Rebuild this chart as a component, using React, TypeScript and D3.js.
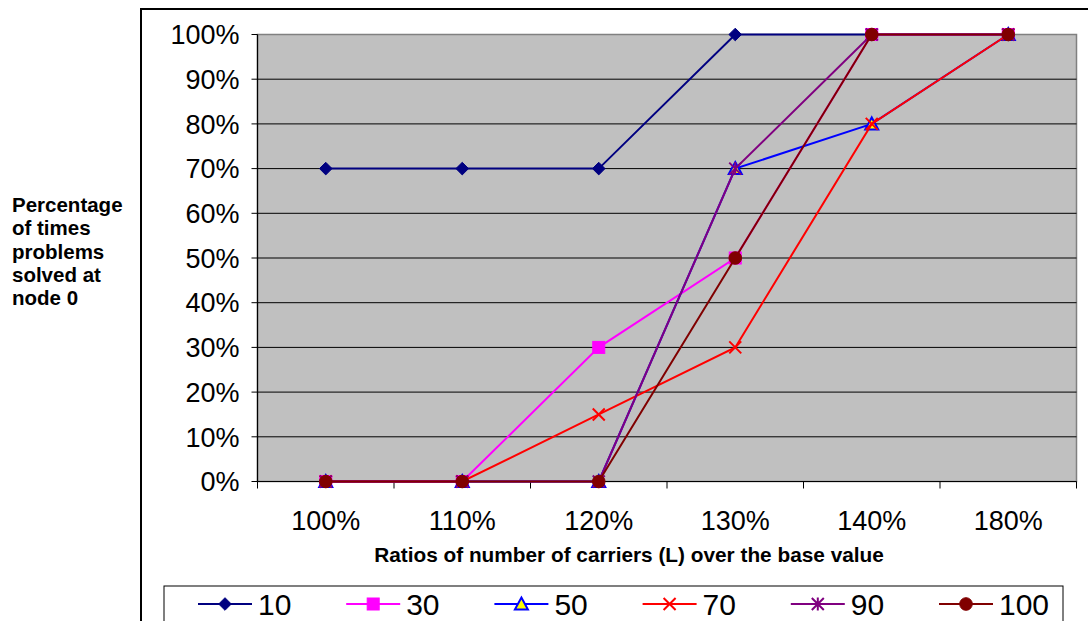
import React from "react";
import * as d3 from "d3";

const categories = ["100%", "110%", "120%", "130%", "140%", "180%"];
const seriesNames = ["10", "30", "50", "70", "90", "100"];
const values10 = [0.7, 0.7, 0.7, 1.0, 1.0, 1.0];
const values30 = [0, 0, 0.3, 0.5, 1.0, 1.0];
const values50 = [0, 0, 0, 0.7, 0.8, 1.0];
const values70 = [0, 0, 0.15, 0.3, 0.8, 1.0];
const values90 = [0, 0, 0, 0.7, 1.0, 1.0];
const values100 = [0, 0, 0, 0.5, 1.0, 1.0];
const yTicks = [0, 0.1, 0.2, 0.3, 0.4, 0.5, 0.6, 0.7, 0.8, 0.9, 1.0];

type MarkerKind = "diamond" | "square" | "triangle" | "x" | "star" | "circle";

const seriesStyle: { color: string; marker: MarkerKind; fill: string }[] = [
  { color: "#000080", marker: "diamond", fill: "#000080" },
  { color: "#FF00FF", marker: "square", fill: "#FF00FF" },
  { color: "#0000FF", marker: "triangle", fill: "#FFFF00" },
  { color: "#FF0000", marker: "x", fill: "none" },
  { color: "#800080", marker: "star", fill: "none" },
  { color: "#800000", marker: "circle", fill: "#800000" },
];

const allValues = [values10, values30, values50, values70, values90, values100];

const FONT = "'Liberation Sans', Arial, Helvetica, sans-serif";

const plot = { left: 257.5, right: 1076.5, top: 34.5, bottom: 481.5 };

function Marker({ kind, x, y, color, fill }: { kind: MarkerKind; x: number; y: number; color: string; fill: string }) {
  const r = 6.3;
  switch (kind) {
    case "diamond":
      return <path d={`M${x},${y - r}L${x + r},${y}L${x},${y + r}L${x - r},${y}Z`} fill={fill} stroke={color} strokeWidth={1} />;
    case "square":
      return <rect x={x - 6} y={y - 6} width={12} height={12} fill={fill} stroke={color} strokeWidth={1} />;
    case "triangle":
      return <path d={`M${x},${y - 6.5}L${x + 6.5},${y + 5.5}L${x - 6.5},${y + 5.5}Z`} fill={fill} stroke={color} strokeWidth={2} strokeLinejoin="miter" />;
    case "x":
      return <path d={`M${x - 6},${y - 6}L${x + 6},${y + 6}M${x + 6},${y - 6}L${x - 6},${y + 6}`} stroke={color} strokeWidth={2} fill="none" />;
    case "star":
      return (
        <path
          d={`M${x - 6},${y - 6}L${x + 6},${y + 6}M${x + 6},${y - 6}L${x - 6},${y + 6}M${x},${y - 6.5}L${x},${y + 6.5}`}
          stroke={color}
          strokeWidth={2}
          fill="none"
        />
      );
    case "circle":
      return <circle cx={x} cy={y} r={6.3} fill={fill} stroke={color} strokeWidth={1} />;
  }
}

export default function App() {
  const width = 1088;
  const height = 621;

  const x = d3.scaleBand<string>().domain(categories).range([plot.left, plot.right]).padding(0);
  const y = d3.scaleLinear().domain([0, 1]).range([plot.bottom, plot.top]);
  const cx = (c: string) => (x(c) ?? 0) + x.bandwidth() / 2;

  const line = d3
    .line<number>()
    .x((_, i) => cx(categories[i]))
    .y((v) => y(v));

  const fmt = d3.format(".0%");

  const tickBoundaries = [...categories.map((c) => x(c) ?? 0), plot.right];

  const legendItems = seriesNames.map((name, i) => ({ name, i, x0: 198 + i * 148.2 }));

  return (
    <svg
      width={width}
      height={height}
      style={{ position: "absolute", left: 0, top: 0, background: "#ffffff" }}
      fontFamily={FONT}
    >
      {/* chart area frame */}
      <rect x={141} y={9} width={1000} height={700} fill="#ffffff" stroke="#000000" strokeWidth={2} />

      {/* plot area */}
      <rect
        x={plot.left}
        y={plot.top}
        width={plot.right - plot.left}
        height={plot.bottom - plot.top}
        fill="#C0C0C0"
        stroke="#808080"
        strokeWidth={1.5}
      />

      {/* horizontal gridlines */}
      {yTicks.slice(1, -1).map((t) => (
        <line key={t} x1={plot.left} x2={plot.right} y1={y(t)} y2={y(t)} stroke="#000000" strokeWidth={1} />
      ))}

      {/* y axis */}
      <line x1={plot.left} x2={plot.left} y1={plot.top} y2={plot.bottom} stroke="#000000" strokeWidth={1.2} />
      {yTicks.map((t) => (
        <g key={t}>
          <line x1={plot.left - 6} x2={plot.left} y1={y(t)} y2={y(t)} stroke="#000000" strokeWidth={1} />
          <text x={239.5} y={y(t)} dy="0.36em" textAnchor="end" fontSize={27} fill="#000000">
            {fmt(t)}
          </text>
        </g>
      ))}

      {/* x axis */}
      <line x1={plot.left} x2={plot.right} y1={plot.bottom} y2={plot.bottom} stroke="#000000" strokeWidth={1.2} />
      {tickBoundaries.map((bx, i) => (
        <line key={i} x1={bx} x2={bx} y1={plot.bottom} y2={plot.bottom + 7} stroke="#000000" strokeWidth={1} />
      ))}
      {categories.map((c) => (
        <text key={c} x={cx(c)} y={530} textAnchor="middle" fontSize={27} fill="#000000">
          {c}
        </text>
      ))}

      {/* axis titles */}
      <text x={629} y={562} textAnchor="middle" fontSize={20.8} fontWeight="bold" fill="#000000">
        Ratios of number of carriers (L) over the base value
      </text>
      <text fontSize={20.5} fontWeight="bold" fill="#000000">
        {["Percentage", "of times", "problems", "solved at", "node 0"].map((s, i) => (
          <tspan key={s} x={12} y={212 + i * 23.3}>
            {s}
          </tspan>
        ))}
      </text>

      {/* series */}
      {allValues.map((vals, si) => (
        <g key={seriesNames[si]}>
          <path d={line(vals) ?? ""} fill="none" stroke={seriesStyle[si].color} strokeWidth={2} />
          {vals.map((v, i) => (
            <Marker
              key={i}
              kind={seriesStyle[si].marker}
              x={cx(categories[i])}
              y={y(v)}
              color={seriesStyle[si].color}
              fill={seriesStyle[si].fill}
            />
          ))}
        </g>
      ))}

      {/* legend */}
      <rect x={164} y={586} width={899} height={60} fill="#ffffff" stroke="#000000" strokeWidth={1} />
      {legendItems.map(({ name, i, x0 }) => (
        <g key={name}>
          <line x1={x0} x2={x0 + 54} y1={604} y2={604} stroke={seriesStyle[i].color} strokeWidth={2} />
          <Marker kind={seriesStyle[i].marker} x={x0 + 27} y={604} color={seriesStyle[i].color} fill={seriesStyle[i].fill} />
          <text x={x0 + 60} y={615} fontSize={30} fill="#000000">
            {name}
          </text>
        </g>
      ))}
    </svg>
  );
}
